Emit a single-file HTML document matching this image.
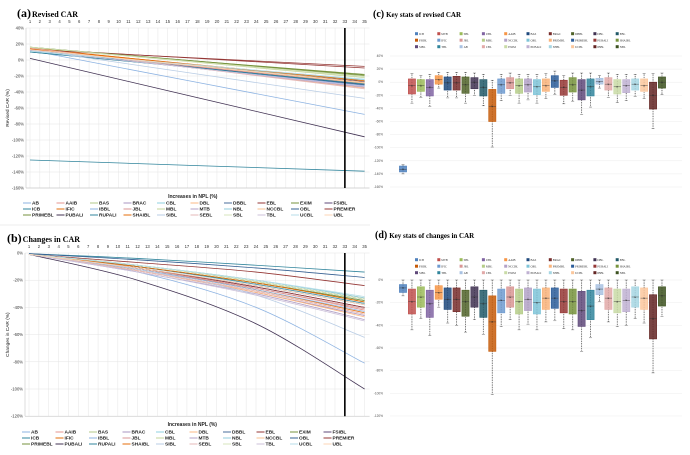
<!DOCTYPE html>
<html><head><meta charset="utf-8"><style>
html,body{margin:0;padding:0;background:#fff;}
svg{display:block;font-family:"Liberation Sans",sans-serif;}
.ttl{font-family:"Liberation Serif",serif;font-weight:bold;}
</style></head><body>
<svg id="fig" width="690" height="455" viewBox="0 0 690 455">
<rect width="690" height="455" fill="#fff"/>
<line x1="0" y1="225" x2="370" y2="225" stroke="#ddd" stroke-width="0.6"/>
<text class="ttl" x="17" y="17" font-size="12">(a)<tspan font-size="8" dx="1">Revised CAR</tspan></text>
<text class="ttl" x="7" y="242" font-size="12">(b)<tspan font-size="8" dx="1">Changes in CAR</tspan></text>
<text class="ttl" x="373" y="17" font-size="10">(c)<tspan font-size="7" dx="2">Key stats of revised CAR</tspan></text>
<text class="ttl" x="375" y="238" font-size="10">(d)<tspan font-size="7" dx="2">Key stats of changes in CAR</tspan></text>
<g id="pa"></g>
<g id="pb"></g>
<g id="pc"></g>
<g id="pd"></g>
</svg>
<script>
const xCats = [1,2,3,4,5,6,7,8,9,10,11,12,13,14,15,16,17,18,19,20,21,22,23,24,25,26,27,28,29,30,31,32,33,34,35];
const lineNames = ["AB","AAIB","BAS","BRAC","CBL","DBL","DBBL","EBL","EXIM","FSIBL","ICB","IFIC","IBBL","JBL","MBL","MTB","NBL","NCCBL","OBL","PREMIER","PRIMEBL","PUBALI","RUPALI","SHAIBL","SIBL","SEBL","SBL","TBL","UCBL","UBL"];
const lineColors = ["#8db3e2","#e6958f","#b3c98a","#a895c2","#8fd0e0","#fbb884","#4a6e9b","#943634","#77933c","#5f497a","#31859c","#e36c09","#8db3e2","#d99694","#c3d69b","#b3a2c7","#93cddd","#fac090","#366092","#953735","#76923c","#403152","#31859c","#e46c0a","#b9cde5","#e6b9b8","#d7e4bd","#ccc1da","#b7dee8","#fcd5b5"];
// panel a: revised CAR (%) at NPL increase 1 and 35
const aX = [1,35];
const aStart = [12,14,16,13,11,14,10,14,15,12,-125,15,12,13,16,13,11,14,12,13,16,2,10,14,13,15,16,12,11,13];
const aEnd = [-68,-30,-20,-33,-25,-35,-29,-10,-18,-27,-139,-28,-32,-30,-22,-34,-26,-29,-31,-8,-19,-96,-30,-26,-48,-36,-21,-33,-24,-28];
const aTicks = [40,20,0,-20,-40,-60,-80,-100,-120,-140,-160];
// panel b: changes in CAR (%) at NPL increase 1,12,24,35
const bX = [1,12,24,35];
const bVals = [
[-1,-14,-40,-81],[-1,-12,-26,-42],[-1,-9,-20,-33],[-1,-13,-29,-46],[-1,-10,-22,-35],
[-1,-13,-29,-47],[-1,-11,-24,-38],[-1,-7,-14,-24],[-1,-9,-21,-34],[-1,-11,-25,-40],
[-0.5,-4,-9,-14],[-1,-12,-27,-44],[-1,-12,-27,-43],[-1,-11,-26,-41],[-1,-10,-22,-36],
[-1,-14,-30,-49],[-1,-9,-20,-33],[-1,-13,-28,-45],[-0.5,-5,-11,-18],[-1,-11,-25,-40],
[-1,-10,-22,-35],[-1,-20,-52,-100],[-1,-10,-23,-37],[-1,-10,-22,-36],[-1,-12,-31,-62],
[-1,-13,-28,-45],[-1,-9,-21,-34],[-1,-14,-31,-50],[-1,-9,-20,-32],[-1,-11,-24,-38]];
const bTicks = [0,-20,-40,-60,-80,-100,-120];
// box panels
const boxNames = ["ICB","MTB","SBL","UBL","AAIB","BAS","BRAC","DBBL","DBL","EBL","FSIBL","IFIC","JBL","MBL","NCCBL","OBL","PREMBL","PRIMEBL","PUBALI","SHAIBL","SIBL","TBL","AB","CBL","EXIM","PUBALI","SEBL","UCBL","IBBL","NBL"];
const boxColors = ["#4f81bd","#c0504d","#9bbb59","#8064a2","#f79646","#1f497d","#772c2a","#4f6228","#3f3151","#215968","#c65a08","#6f9bd0","#d99694","#b5cc88","#b3a2c7","#7fc4d8","#f9b37a","#2c5d9a","#953735","#77933c","#5f497a","#31859c","#a9c2e2","#e2a9a8","#c9dba6","#bfb1d2","#a6d6e3","#fbc79c","#632523","#3d5220"];
const cQ1 = [-137,-18,-14,-21,-3,-12,-12,-17,-10,-21,-60,-17,-10,-17,-15,-19,-14,-8,-20,-15,-27,-21,-3,-12,-18,-16,-12,-14,-41,-9];
const cQ3 = [-128,5,4,4,10,8,9,8,7,4,-11,5,7,5,5,4,5,10,3,7,4,5,6,7,4,4,5,5,0,8];
const cMed = [-133,-5,-5,-8,4,-1,-1,-4,0,-8,-37,-4,-1,-5,-4,-7,-5,2,-8,-4,-12,-7,1,-3,-7,-5,-3,-5,-20,0];
const cMin = [-140,-32,-23,-37,-9,-24,-24,-32,-20,-36,-99,-28,-20,-32,-27,-32,-25,-19,-33,-29,-49,-38,-9,-23,-31,-28,-22,-25,-71,-19];
const cMax = [-126,13,10,12,15,15,15,15,14,12,3,12,14,12,12,12,13,17,10,14,14,14,10,14,12,12,12,13,13,14];
const cTicks = [40,20,0,-20,-40,-60,-80,-100,-120,-140,-160];
const dQ1 = [-11,-30,-24,-33,-17,-26,-28,-32,-24,-33,-63,-29,-24,-30,-27,-30,-26,-25,-29,-30,-41,-35,-13,-26,-29,-28,-24,-26,-52,-23];
const dQ3 = [-4,-8,-6,-9,-5,-7,-7,-9,-6,-9,-14,-8,-6,-8,-7,-8,-7,-7,-8,-8,-10,-9,-4,-7,-8,-8,-6,-7,-13,-6];
const dMed = [-7,-19,-15,-21,-11,-17,-17,-19,-15,-21,-37,-18,-15,-19,-17,-20,-16,-16,-19,-19,-27,-23,-8,-16,-19,-18,-15,-16,-34,-14];
const dMin = [-14,-44,-34,-49,-24,-38,-40,-46,-35,-48,-101,-41,-35,-44,-39,-44,-37,-36,-43,-44,-63,-51,-19,-37,-41,-40,-34,-38,-82,-32];
const dMax = [0,0,0,0,0,0,0,0,0,0,0,0,0,0,0,0,0,0,0,0,0,0,0,0,0,0,0,0,0,0];
const dTicks = [0,-20,-40,-60,-80,-100,-120];

const NS="http://www.w3.org/2000/svg";
function mk(tag,attrs,parent){const e=document.createElementNS(NS,tag);for(const k in attrs)e.setAttribute(k,attrs[k]);parent.appendChild(e);return e;}
function smoothPath(P){
  let d='M'+P[0][0].toFixed(2)+','+P[0][1].toFixed(2);
  for(let i=0;i<P.length-1;i++){
    const p0=P[i-1]||P[i],p1=P[i],p2=P[i+1],p3=P[i+2]||P[i+1];
    const c1=[p1[0]+(p2[0]-p0[0])/6,p1[1]+(p2[1]-p0[1])/6];
    const c2=[p2[0]-(p3[0]-p1[0])/6,p2[1]-(p3[1]-p1[1])/6];
    d+=' C'+c1.map(v=>v.toFixed(2)).join(',')+' '+c2.map(v=>v.toFixed(2)).join(',')+' '+p2.map(v=>v.toFixed(2)).join(',');
  }
  return d;
}

function linePanel(g,cfg){
  const xs=v=>cfg.x0+(v-1)*cfg.dx;
  const ys=v=>cfg.yTop+(cfg.vTop-v)*cfg.pp;
  const left=cfg.x0-4, right=xs(35)+5;
  const bottom=ys(cfg.vBot);
  xCats.forEach(c=>{
    const l=mk('line',{x1:xs(c),x2:xs(c),y1:cfg.yTop,y2:bottom,stroke:'#e4e4e4','stroke-width':0.5},g);
    
    
    const t=mk('text',{x:xs(c),y:cfg.yTop-5,'font-size':4.2,'text-anchor':'middle',fill:'#333'},g);
    
    
    t.textContent=c;
  });
  cfg.ticks.forEach(v=>{
    const l=mk('line',{x1:left,x2:right,y1:ys(v),y2:ys(v),stroke:'#e4e4e4','stroke-width':0.5},g);
    
    
    const t=mk('text',{x:left-2,y:ys(v)+1.5,'font-size':4.2,'text-anchor':'end',fill:'#333'},g);
    
    
    t.textContent=v+'%';
  });
  mk('line',{x1:left,x2:left,y1:cfg.yTop,y2:bottom,stroke:'#bbb','stroke-width':0.5},g);
  mk('line',{x1:left,x2:right,y1:bottom,y2:bottom,stroke:'#bbb','stroke-width':0.5},g);
  lineNames.forEach((n,i)=>{
    const P=cfg.getPts(i).map(p=>[xs(p[0]),ys(p[1])]);
    const pl=mk('path',{d:smoothPath(P),fill:'none',stroke:lineColors[i],'stroke-width':0.8},g);
    
    
  });
  const vl=mk('line',{x1:xs(33),x2:xs(33),y1:cfg.yTop,y2:bottom,stroke:'#000','stroke-width':1.6},g);
  
  
  const yt=mk('text',{x:0,y:0,'font-size':4.8,'text-anchor':'middle',fill:'#222',transform:`translate(${cfg.yTitleX},${(cfg.yTop+bottom)/2}) rotate(-90)`},g);
  
  
  yt.textContent=cfg.yTitle;
  const xt=mk('text',{x:(left+right)/2-5,y:bottom+10,'font-size':5,'text-anchor':'middle',fill:'#222','font-weight':'bold'},g);
  
  
  xt.textContent='Increases in NPL (%)';
  lineNames.forEach((n,i)=>{
    const col=i%10,row=Math.floor(i/10);
    const lx=cfg.legX+col*33.5, ly=cfg.legY+row*6;
    const e=mk('g',{},g);
    
    
    mk('line',{x1:lx,x2:lx+8,y1:ly,y2:ly,stroke:lineColors[i],'stroke-width':1},e);
    const t=mk('text',{x:lx+9,y:ly+1.7,'font-size':4.8,fill:'#222','font-weight':'bold'},e);
    t.textContent=n;
  });
}
linePanel(document.getElementById('pa'),{x0:30,dx:9.84,yTop:28,vTop:40,vBot:-160,pp:0.8,ticks:aTicks,
  yTitle:'Revised CAR (%)',yTitleX:9,legX:23,legY:203,
  getPts:i=>[[aX[0],aStart[i]],[aX[1],aEnd[i]]]});
linePanel(document.getElementById('pb'),{x0:29,dx:9.87,yTop:253,vTop:0,vBot:-120,pp:1.36,ticks:bTicks,
  yTitle:'Changes in CAR (%)',yTitleX:9,legX:22,legY:432,
  getPts:i=>bX.map((x,k)=>[x,bVals[i][k]])});

function boxPanel(g,cfg){
  const ys=v=>cfg.yTop+(cfg.vTop-v)*cfg.pp;
  const xs=i=>403+i*8.93;
  cfg.ticks.forEach(v=>{
    const l=mk('line',{x1:390,x2:682,y1:ys(v),y2:ys(v),stroke:'#ececec','stroke-width':0.5},g);
    
    
    const t=mk('text',{x:383,y:ys(v)+1,'font-size':3.2,'text-anchor':'end',fill:'#555'},g);
    
    
    t.textContent=v+'%';
  });
  boxNames.forEach((n,i)=>{
    const col=i%10,row=Math.floor(i/10);
    const lx=417+col*22.3, ly=cfg.legY+row*6.5;
    const e=mk('g',{},g);
    
    
    mk('rect',{x:lx-2,y:ly-1.8,width:3,height:3,fill:boxColors[i]},e);
    const t=mk('text',{x:lx+2,y:ly+1,'font-size':3,fill:'#333','font-family':'Liberation Serif, serif'},e);
    t.textContent=n;
  });
  boxNames.forEach((n,i)=>{
    const cx=xs(i),w=7.2;
    const bg=mk('g',{},g);
    
    
    mk('line',{x1:cx,x2:cx,y1:ys(cfg.max[i]),y2:ys(cfg.min[i]),stroke:'#444','stroke-width':0.9,'stroke-dasharray':'0.8 0.9'},bg);
    mk('rect',{x:cx-w/2,y:ys(cfg.q3[i]),width:w,height:ys(cfg.q1[i])-ys(cfg.q3[i]),fill:boxColors[i],'fill-opacity':0.85,stroke:boxColors[i],'stroke-width':0.6},bg);
    mk('line',{x1:cx-w/2,x2:cx+w/2,y1:ys(cfg.med[i]),y2:ys(cfg.med[i]),stroke:'#333','stroke-width':0.4},bg);
    mk('line',{x1:cx-1.5,x2:cx+1.5,y1:ys(cfg.max[i]),y2:ys(cfg.max[i]),stroke:'#444','stroke-width':0.4},bg);
    mk('line',{x1:cx-1.5,x2:cx+1.5,y1:ys(cfg.min[i]),y2:ys(cfg.min[i]),stroke:'#444','stroke-width':0.4},bg);
    mk('text',{x:cx,y:ys(cfg.med[i])+1.3,'font-size':3.5,'text-anchor':'middle',fill:'#222'},bg).textContent='×';
  });
}
boxPanel(document.getElementById('pc'),{yTop:56,vTop:40,pp:0.655,ticks:cTicks,legY:34,q1:cQ1,q3:cQ3,med:cMed,min:cMin,max:cMax});
boxPanel(document.getElementById('pd'),{yTop:280,vTop:0,pp:1.133,ticks:dTicks,legY:260,q1:dQ1,q3:dQ3,med:dMed,min:dMin,max:dMax});
</script>
</body></html>
